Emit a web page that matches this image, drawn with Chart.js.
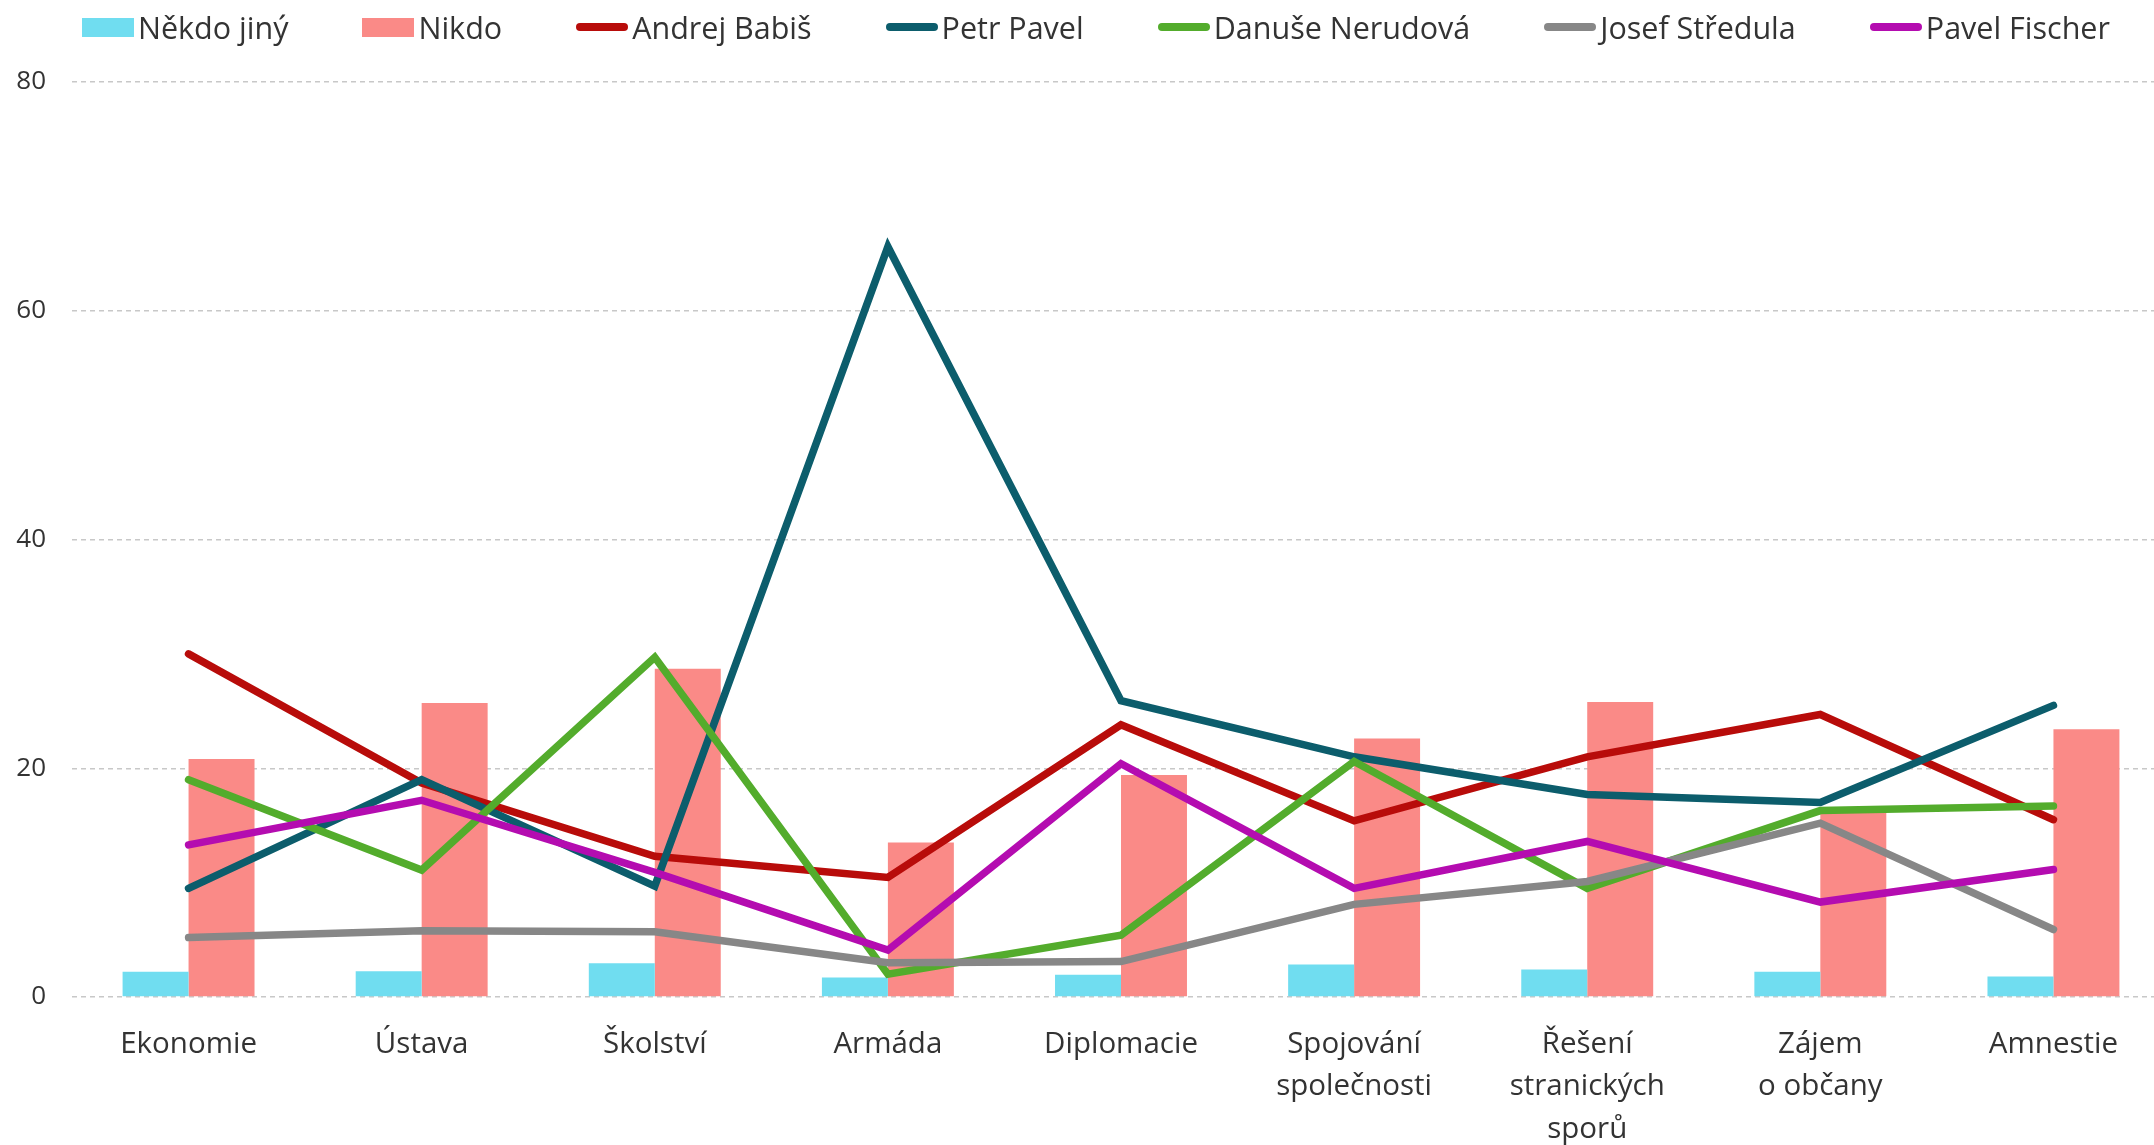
<!DOCTYPE html>
<html lang="cs">
<head>
<meta charset="utf-8">
<title>Kandidáti podle oblastí</title>
<script src="https://cdn.jsdelivr.net/npm/chart.js@4/dist/chart.umd.min.js"></script>
<style>
  html, body { margin: 0; padding: 0; background: #fff; overflow: hidden; }
  #wrap { position: relative; width: 2154px; height: 1145px; overflow: hidden; }
  #myChart { display: block; position: absolute; left: 0; top: 0; }
  #legend { position: absolute; left: 82px; top: 0; display: flex; font-family: 'Open Sans', sans-serif; font-size: 30.5px; color: #333; white-space: nowrap; z-index: 2; }
  .item { display: flex; align-items: center; height: 54px; margin-right: 74px; }
  .box { width: 52px; height: 19px; margin-right: 4px; }
  .line { width: 52px; height: 7.5px; border-radius: 4px; margin-right: 4px; }
</style>
</head>
<body>
<div id="wrap">
  <div id="legend"></div>
  <canvas id="myChart" width="2170" height="1145"></canvas>
</div>
<script>
'use strict';
// categories (x axis)
let categories = ['Ekonomie', 'Ústava', 'Školství', 'Armáda', 'Diplomacie',
  ['Spojování', 'společnosti'], ['Řešení', 'stranických', 'sporů'], ['Zájem', 'o občany'], 'Amnestie'];
// y axis ticks
let yTicks = [0, 20, 40, 60, 80];

// bar series
let nekdoJiny = [2.2, 2.25, 2.95, 1.7, 1.95, 2.85, 2.4, 2.2, 1.8];
let nikdo = [20.8, 25.7, 28.7, 13.5, 19.4, 22.6, 25.8, 16.2, 23.4];
// line series
let babis = [30.0, 18.7, 12.3, 10.45, 23.8, 15.4, 21.0, 24.7, 15.5];
let pavel = [9.5, 19.0, 9.7, 65.6, 25.9, 21.0, 17.7, 17.0, 25.5];
let nerudova = [19.0, 11.1, 29.7, 2.0, 5.4, 20.6, 9.5, 16.3, 16.7];
let stredula = [5.2, 5.8, 5.7, 3.0, 3.1, 8.1, 10.1, 15.2, 5.9];
let fischer = [13.3, 17.2, 10.9, 4.1, 20.4, 9.5, 13.6, 8.3, 11.15];

let barNames = ['Někdo jiný', 'Nikdo'];
let barColors = ['#70DDF0', '#FA8A87'];
let lineNames = ['Andrej Babiš', 'Petr Pavel', 'Danuše Nerudová', 'Josef Středula', 'Pavel Fischer'];
let lineColors = ['#B80C0A', '#0C5D6C', '#53AC2C', '#878787', '#B40CB0'];

let barData = [nekdoJiny, nikdo];
let lineData = [babis, pavel, nerudova, stredula, fischer];

let datasets = [];
for (let i = 0; i < barData.length; i++) {
  datasets.push({
    type: 'bar',
    label: barNames[i],
    data: barData[i],
    backgroundColor: barColors[i],
    borderWidth: 0,
    categoryPercentage: 0.566,
    barPercentage: 1,
    order: 10
  });
}
for (let i = 0; i < lineData.length; i++) {
  datasets.push({
    type: 'line',
    label: lineNames[i],
    data: lineData[i],
    borderColor: lineColors[i],
    backgroundColor: lineColors[i],
    borderWidth: 7.5,
    borderCapStyle: 'round',
    borderJoinStyle: 'miter',
    pointRadius: 0,
    tension: 0,
    fill: false,
    order: lineData.length - i // later series on top
  });
}

// html legend
let legendEl = document.getElementById('legend');
function addLegendItem(name, color, cls) {
  let item = document.createElement('div');
  item.className = 'item';
  let mark = document.createElement('span');
  mark.className = cls;
  mark.style.background = color;
  let text = document.createElement('span');
  text.textContent = name;
  item.appendChild(mark);
  item.appendChild(text);
  legendEl.appendChild(item);
}
for (let i = 0; i < barNames.length; i++) addLegendItem(barNames[i], barColors[i], 'box');
for (let i = 0; i < lineNames.length; i++) addLegendItem(lineNames[i], lineColors[i], 'line');

let ctx = document.getElementById('myChart').getContext('2d');
let myChart = new Chart(ctx, {
  type: 'bar',
  data: { labels: categories, datasets: datasets },
  options: {
    responsive: false,
    animation: false,
    layout: { padding: { top: 82, right: 0, bottom: 0, left: 0 } },
    plugins: {
      legend: { display: false },
      tooltip: { enabled: false }
    },
    scales: {
      x: {
        offset: true,
        grid: { display: false, drawTicks: false },
        border: { display: false },
        ticks: {
          color: '#333',
          font: { family: 'Open Sans', size: 29.5, lineHeight: 1.44 },
          padding: 26,
          maxRotation: 0,
          autoSkip: false
        },
        afterFit: function(scale) { scale.height = 148; }
      },
      y: {
        min: yTicks[0],
        max: yTicks[yTicks.length - 1],
        afterBuildTicks: function(scale) {
          scale.ticks = yTicks.map(v => ({ value: v }));
        },
        grid: { color: '#c8c8c8', lineWidth: 1.5, drawTicks: false },
        border: { display: false, dash: [5, 4] },
        ticks: {
          color: '#333',
          font: { family: 'Open Sans', size: 26 },
          padding: 26
        },
        afterFit: function(scale) { scale.width = 72; }
      }
    }
  }
});
</script>
</body>
</html>
